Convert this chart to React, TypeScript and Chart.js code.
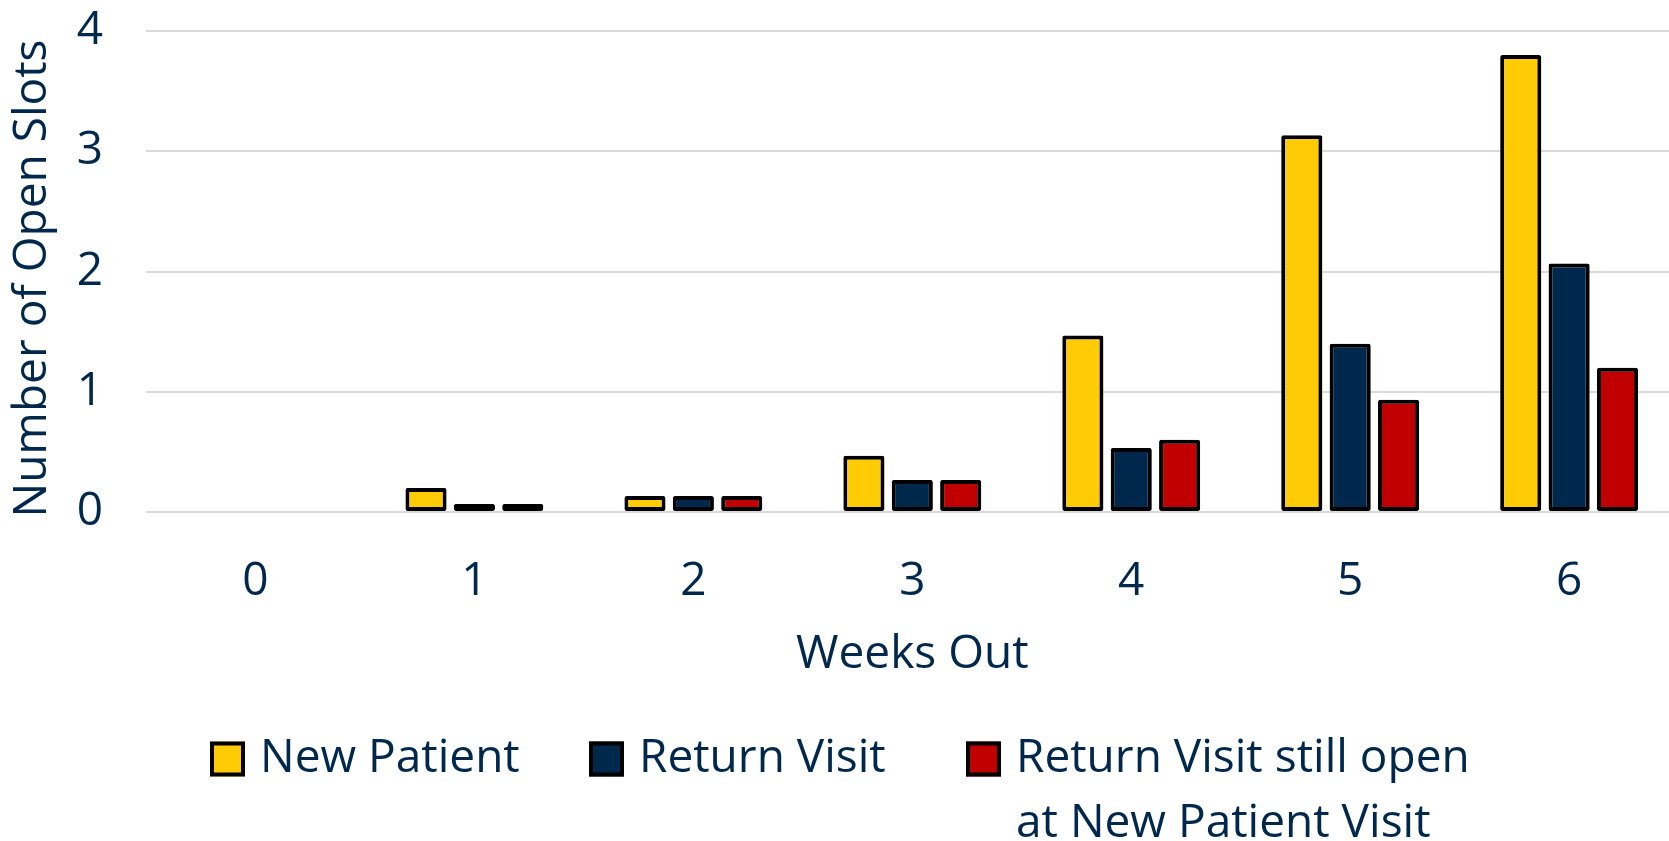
import React, { useEffect, useRef } from 'react';
import { Chart, registerables } from 'chart.js';

Chart.register(...registerables);

// ---- Data ----
const weeks: string[] = ['0', '1', '2', '3', '4', '5', '6'];
const newPatient: number[] = [0, 0.2, 0.133, 0.467, 1.467, 3.133, 3.8];
const returnVisit: number[] = [0, 0.067, 0.133, 0.267, 0.533, 1.4, 2.067];
const returnStillOpen: number[] = [0, 0.067, 0.133, 0.267, 0.6, 0.933, 1.2];
const seriesLabels: string[] = [
  'New Patient',
  'Return Visit',
  'Return Visit still open at New Patient Visit',
];
const legendLines: string[][] = [
  ['New Patient'],
  ['Return Visit'],
  ['Return Visit still open', 'at New Patient Visit'],
];
const yMin = 0;
const yMax = 4;
const yStep = 1;
const yTitle = 'Number of Open Slots';
const xTitle = 'Weeks Out';

// ---- Styles ----
const TEXT = '#00274C';
const COLORS = ['#FFCB05', '#00274C', '#C00000'];
const GRID = '#D9D9D9';
const FONT = 'Open Sans';
const FS = 46;

const CANVAS_W = 1700;
const CANVAS_H = 841;

export default function App() {
  const ref = useRef<HTMLCanvasElement>(null);

  useEffect(() => {
    const canvas = ref.current;
    if (!canvas) return;

    const legendPlugin = {
      id: 'customLegend',
      afterDraw(chart: any) {
        const ctx = chart.ctx as CanvasRenderingContext2D;
        const xs = [210, 589, 966];
        const yc = 759;
        const box = 35;
        const lineGap = 65;
        ctx.save();
        ctx.font = `${FS}px "${FONT}"`;
        ctx.textBaseline = 'middle';
        ctx.textAlign = 'left';
        chart.data.datasets.forEach((ds: any, i: number) => {
          const x = xs[i];
          ctx.fillStyle = ds.backgroundColor;
          ctx.fillRect(x, yc - box / 2, box, box);
          ctx.strokeStyle = '#000';
          ctx.lineWidth = 4;
          ctx.strokeRect(x + 2, yc - box / 2 + 2, box - 4, box - 4);
          ctx.fillStyle = TEXT;
          legendLines[i].forEach((t, j) => {
            ctx.fillText(t, x + box + 15, yc + j * lineGap);
          });
        });
        ctx.restore();
      },
    };

    const yTitlePlugin = {
      id: 'yTitle',
      afterDraw(chart: any) {
        const ctx = chart.ctx as CanvasRenderingContext2D;
        const area = chart.chartArea;
        ctx.save();
        ctx.font = `${FS}px "${FONT}"`;
        ctx.fillStyle = TEXT;
        ctx.textAlign = 'center';
        ctx.textBaseline = 'middle';
        ctx.translate(33.3, (area.top + area.bottom) / 2 + 7);
        ctx.rotate(-Math.PI / 2);
        ctx.fillText(yTitle, 0, 0);
        ctx.restore();
      },
    };

    const series = [newPatient, returnVisit, returnStillOpen];

    const chart = new Chart(canvas, {
      type: 'bar',
      data: {
        labels: weeks,
        datasets: series.map((d, i) => ({
          label: seriesLabels[i],
          data: d,
          backgroundColor: COLORS[i],
          borderColor: '#000000',
          borderWidth: 4,
          borderSkipped: false,
          borderRadius: 2,
          categoryPercentage: 0.663,
          barPercentage: 0.85,
        })),
      },
      options: {
        responsive: false,
        animation: false,
        devicePixelRatio: 1,
        layout: {
          padding: { top: 31, right: 21.4, bottom: 158.6, left: 0 },
        },
        plugins: {
          legend: { display: false },
          tooltip: { enabled: false },
        },
        scales: {
          x: {
            offset: true,
            grid: { display: false, drawTicks: false },
            border: { display: false },
            ticks: {
              color: TEXT,
              font: { family: FONT, size: FS },
              padding: 42,
            },
            title: {
              display: true,
              text: xTitle,
              color: TEXT,
              font: { family: FONT, size: FS },
              padding: { top: 15, bottom: 0 },
            },
            afterFit: (s: any) => {
              s.height = 170.4;
              s.paddingLeft = 0;
              s.paddingRight = 0;
            },
          },
          y: {
            min: yMin,
            max: yMax,
            grid: { color: GRID, lineWidth: 2, drawTicks: false },
            border: { display: false },
            ticks: {
              stepSize: yStep,
              color: TEXT,
              font: { family: FONT, size: FS },
              padding: 43,
            },
            title: { display: false, text: yTitle },
            afterFit: (s: any) => {
              s.width = 146;
              s.paddingTop = 0;
              s.paddingBottom = 0;
            },
          },
        },
      },
      plugins: [legendPlugin, yTitlePlugin],
    });

    return () => chart.destroy();
  }, []);

  return (
    <div
      style={{
        position: 'absolute',
        left: 0,
        top: 0,
        width: 1669,
        height: 841,
        overflow: 'hidden',
        background: '#fff',
      }}
    >
      <canvas
        ref={ref}
        width={CANVAS_W}
        height={CANVAS_H}
        style={{ display: 'block', width: CANVAS_W, height: CANVAS_H }}
      />
    </div>
  );
}
